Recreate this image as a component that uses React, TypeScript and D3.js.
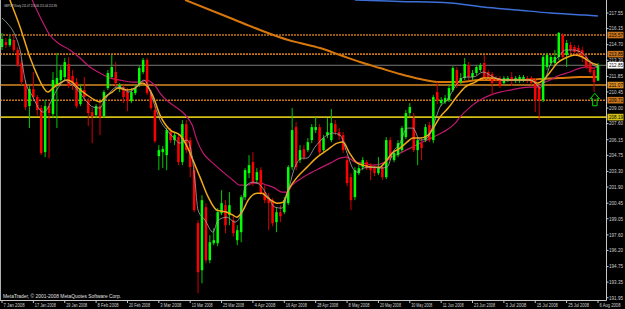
import React from "react";
import * as d3 from "d3";

const W = 625;
const H = 309;

// ---------- data ----------
const title = "GBPJPY,Daily 211.47 213.06 211.44 212.85";
const copyright = "MetaTrader, \u00A9 2001-2008 MetaQuotes Software Corp.";

const dateLabels = ["7 Jan 2008","17 Jan 2008","29 Jan 2008","8 Feb 2008","20 Feb 2008","3 Mar 2008","13 Mar 2008","25 Mar 2008","4 Apr 2008","16 Apr 2008","28 Apr 2008","8 May 2008","20 May 2008","30 May 2008","11 Jun 2008","23 Jun 2008","3 Jul 2008","15 Jul 2008","25 Jul 2008","6 Aug 2008"];
const dateBars = [0,8,16,24,32,40,48,56,64,72,80,88,96,104,112,120,128,136,144,152];

const priceTicks = [217.55,216.15,214.70,213.30,211.85,210.45,209.00,207.60,206.15,204.75,203.30,201.90,200.45,199.05,197.60,196.20,194.75,193.35,191.95];

const opens = [214.49,214.94,214.67,215.12,214.22,213.05,211.16,209.18,210.71,209.99,
209.00,205.04,209.18,208.46,211.16,211.52,211.79,212.96,211.88,211.34,
209.36,210.62,209.72,208.64,208.37,209.18,208.28,210.80,211.79,212.24,
210.71,210.89,210.44,209.63,210.35,211.07,212.24,213.32,210.35,208.82,
204.68,205.04,204.77,206.84,206.12,206.39,204.14,207.56,206.12,203.42,
198.65,194.42,200.09,195.32,196.85,196.85,199.55,200.27,199.37,198.92,
197.12,197.84,200.99,203.15,204.14,202.52,203.42,201.44,200.99,200.72,
198.74,199.64,199.64,200.45,203.69,207.29,204.32,205.31,205.22,206.12,
207.02,207.29,205.22,206.57,206.12,207.56,206.84,206.57,204.32,202.79,
200.99,203.15,203.69,204.14,203.87,203.69,203.15,203.69,202.79,206.12,
204.32,204.77,205.22,206.39,208.55,208.10,205.22,205.85,206.12,207.47,
206.12,210.44,209.45,209.54,209.72,210.62,212.42,211.34,211.70,212.87,
211.79,212.15,212.42,213.05,212.24,212.06,211.70,211.70,211.25,211.52,
211.79,211.43,211.43,211.52,211.70,211.70,211.52,210.89,209.72,212.69,
213.05,213.05,213.59,215.57,213.77,214.67,214.49,214.40,214.22,213.59,
213.05,212.42,211.47];

const highs = [215.75,215.30,215.48,215.57,214.49,213.32,211.52,210.98,212.24,210.17,
209.27,209.72,209.54,212.24,213.95,212.78,213.50,213.59,212.42,211.70,
211.16,211.79,209.90,209.00,209.36,209.54,210.62,212.42,213.77,213.14,
211.25,211.07,210.80,210.80,211.07,212.78,213.50,213.50,210.62,209.27,
205.67,205.58,207.20,207.20,206.84,206.75,207.92,207.92,206.39,203.87,
198.92,201.17,200.45,197.57,198.20,200.00,201.62,200.72,201.44,199.37,
198.47,201.17,203.60,204.77,205.04,203.60,203.69,202.07,201.35,200.90,
200.00,200.27,200.99,203.87,209.00,207.74,205.67,205.67,206.30,207.56,
208.19,207.56,206.57,208.10,208.91,207.92,207.20,206.84,204.77,203.15,
203.69,203.87,204.59,204.32,204.05,203.87,204.59,203.87,206.39,206.39,
205.22,206.12,207.38,208.82,209.45,208.55,206.39,206.30,207.56,207.74,
210.17,211.34,209.99,210.17,211.07,212.78,212.69,212.15,213.50,213.14,
212.42,212.87,213.05,213.77,212.42,212.24,211.88,211.88,211.88,211.88,
212.24,211.88,211.97,211.97,211.88,211.88,211.70,211.07,213.77,213.95,
213.77,214.22,215.84,215.75,215.12,214.94,214.67,214.67,214.49,213.77,
213.32,212.69,213.06];

const lows = [214.22,214.40,214.49,214.04,212.69,211.07,208.82,207.20,209.72,208.37,
204.77,204.59,204.50,208.10,207.20,211.25,211.52,210.80,210.62,209.00,
209.18,209.72,207.38,205.85,208.10,206.57,208.10,210.62,211.70,210.89,
210.44,209.45,208.73,209.45,210.17,210.89,212.06,210.17,208.82,205.85,
203.42,203.60,203.42,205.85,205.67,203.87,203.87,204.95,202.79,199.64,
192.35,193.25,195.05,195.05,196.67,196.58,199.37,197.75,198.47,197.48,
196.67,196.94,200.72,202.70,201.98,202.25,201.17,200.45,198.02,198.38,
197.84,198.74,199.46,200.27,203.42,203.42,204.05,204.32,205.04,205.85,
206.75,204.68,205.04,206.30,205.94,206.57,206.12,204.95,201.98,199.82,
200.72,202.97,203.42,203.42,202.52,202.88,202.97,202.52,202.61,204.32,
204.14,204.59,205.04,206.21,208.28,205.04,203.87,204.32,205.94,205.94,
205.85,209.36,209.18,209.36,209.54,210.44,210.80,211.16,211.52,211.52,
211.52,211.97,212.24,211.52,211.52,210.17,211.25,210.80,211.07,211.34,
210.98,211.25,211.25,211.34,211.25,211.07,208.64,207.92,209.54,212.42,
212.78,212.87,213.32,213.50,212.69,213.95,213.77,213.68,213.14,212.51,
212.06,210.44,211.44];

const closes = [215.21,214.67,215.21,214.22,212.87,211.34,209.09,210.71,209.99,208.82,
204.95,209.18,208.55,211.52,211.70,212.42,213.14,210.98,211.25,209.18,
210.80,209.99,208.55,208.28,209.18,208.19,210.44,212.15,212.69,211.25,
211.07,209.99,209.63,210.44,210.80,212.60,213.32,210.35,209.00,206.03,
205.22,205.31,207.02,206.12,206.57,204.14,207.56,205.22,203.69,199.82,
194.24,200.72,195.32,196.94,197.12,199.64,200.45,198.47,200.27,197.75,
198.02,200.99,203.42,203.87,202.25,203.24,201.35,200.72,200.45,198.65,
199.64,199.28,200.72,203.69,207.02,203.69,205.22,204.59,205.94,207.29,
207.29,205.04,206.30,206.84,207.65,206.84,206.48,205.22,202.25,200.72,
203.42,203.60,204.32,203.60,203.42,203.15,203.69,202.79,206.12,204.59,
204.95,205.85,207.20,208.55,209.09,205.22,206.12,205.40,207.29,206.12,
209.99,209.72,209.72,209.90,210.80,212.60,211.07,211.70,212.96,211.79,
212.15,212.69,212.87,211.70,211.70,211.25,211.52,210.98,211.70,211.70,
211.61,211.70,211.79,211.79,211.43,211.25,209.72,209.72,213.59,213.77,
213.59,213.59,215.75,213.59,214.85,214.22,214.04,214.04,213.59,212.69,
212.24,211.34,212.85];

// fast MA (gray)
const grayBars = [0,1.3,3.3,4.6,5.9,7.9,9.7,10.5,11.7,13.0,14.8,16.1,16.8,18.1,19.9,21.7,23.2,25.0,25.8,27.6,29.3,30.9,32.1,33.4,35.2,36.2,37.2,38.5,40.3,42.1,43.6,45.4,47.2,48.5,49.2,50.0,51.8,53.8,55.1,57.4,59.4,60.7,62.0,63.8,65.1,66.3,67.9,69.6,71.4,73.0,74.7,76.5,77.8,79.8,81.9,84.4,86.2,88.0,89.3,90.6,92.1,94.4,96.4,98.2,99.7,101.5,103.3,104.8,106.6,108.4,110.0,111.7,113.5,115.8,118.1,120.2,122.7,125.3,127.8,131.4,134.7,136.0,137.2,138.5,139.8,141.6,143.7,145.7,148.0,149.2,150.8,152.0];
const grayVals = [217.10,216.65,215.57,214.22,211.52,209.99,208.82,208.64,209.00,209.99,211.07,211.52,211.34,211.07,210.35,209.54,209.09,209.00,209.45,210.44,210.89,210.80,210.44,210.62,211.25,211.52,211.07,209.72,207.92,207.02,206.39,205.85,206.12,204.59,202.52,199.82,198.92,197.84,198.92,199.19,198.74,199.19,201.89,202.34,202.25,201.89,200.99,200.09,200.00,201.62,203.69,204.50,204.50,205.49,206.30,206.75,206.57,204.95,203.69,203.24,203.60,203.69,203.60,203.69,205.04,205.85,207.20,207.20,206.12,206.30,207.47,209.09,209.72,211.07,211.79,211.79,212.24,211.79,211.52,211.52,211.52,211.25,210.80,211.52,212.87,213.50,214.22,214.22,213.95,213.50,212.87,212.69];

// medium MA (gold)
const goldBars = [2.0,4.6,7.1,9.2,10.5,11.7,13.0,14.8,16.6,17.9,19.4,21.7,23.7,25.0,26.3,28.1,29.6,31.9,33.9,35.7,37.0,38.5,40.3,42.9,45.4,47.4,48.7,50.5,52.6,54.8,57.4,58.9,59.9,61.2,62.8,65.1,66.3,67.9,70.2,71.7,73.0,75.3,77.8,80.4,82.9,85.5,87.0,88.5,90.6,92.1,94.4,96.4,97.7,99.5,101.5,103.3,104.8,106.6,108.7,110.0,111.7,113.8,116.1,118.1,120.7,122.7,125.3,127.8,131.4,134.7,136.5,138.0,139.8,141.6,143.7,146.2,148.0,150.0,152.0];
const goldVals = [218.72,216.29,213.59,211.79,210.89,210.44,210.80,211.25,211.52,211.34,210.80,210.17,209.72,209.54,209.99,210.44,210.80,210.62,210.80,211.25,210.98,210.08,208.37,207.02,206.57,205.40,204.32,202.79,200.99,199.82,199.64,199.37,199.19,199.64,200.72,201.35,201.35,200.90,200.45,200.54,201.62,202.79,203.69,204.59,205.22,205.85,205.94,205.04,204.05,203.87,203.69,203.69,204.14,204.95,205.40,205.94,206.30,206.30,206.57,207.20,208.19,209.00,210.08,210.89,211.34,211.70,211.70,211.52,211.52,211.52,211.25,211.52,212.24,213.05,213.50,213.77,213.59,213.14,212.87];

// slow MA (crimson)
const crimsonBars = [7.7,10.5,12.2,14.3,17.3,19.9,22.4,25.0,27.6,30.1,33.2,35.2,37.0,38.3,39.5,40.3,42.9,45.4,47.2,48.5,49.7,51.3,53.8,56.4,58.9,60.7,62.5,64.0,65.8,67.6,69.6,71.4,72.7,74.0,76.0,78.6,81.1,83.7,86.2,88.0,90.1,92.1,94.6,97.2,99.0,101.5,104.1,106.6,110.0,112.5,115.6,116.8,119.4,121.9,124.5,127.0,129.6,132.1,134.7,136.5,138.0,139.8,142.3,144.9,147.4,149.2,150.8,152.0];
const crimsonVals = [218.72,216.65,215.57,214.85,214.22,213.50,212.69,212.15,211.70,211.52,211.34,211.34,211.52,211.25,210.80,210.35,209.45,208.82,208.19,207.47,206.12,204.95,204.05,203.24,202.52,202.07,202.07,202.25,202.25,202.07,201.80,201.44,201.44,202.07,202.61,203.15,203.60,204.05,204.50,204.59,204.14,204.05,203.87,204.05,204.50,204.95,205.40,205.85,206.39,206.84,207.65,208.19,209.09,209.72,210.17,210.44,210.62,210.80,210.89,210.89,211.25,211.52,211.97,212.24,212.60,212.69,212.60,212.69];

// long MA (dark orange)
const longBars = [46.7,58.2,65.8,73.0,76.0,81.1,86.2,91.3,96.4,101.5,106.6,111.7,116.8,121.9,127.0,132.1,137.2,142.3,147.4,152.0];
const longVals = [218.72,217.10,216.02,215.12,214.85,214.40,213.77,213.14,212.60,212.06,211.61,211.34,211.34,211.52,211.52,211.52,211.61,211.70,211.79,211.79];

// very long MA (blue)
const blueBars = [90.0,101.5,114.3,122.7,131.4,139.8,148.2,152.0];
const blueVals = [218.72,218.59,218.45,218.09,217.82,217.55,217.37,217.28];

// horizontal levels
const levelPrices = [215.57,213.85,211.07,209.71,208.19];
const levelLabels = ["215.57","213.85","211.07","209.71","208.19"];
const levelColors = ["#c8741c","#c8741c","#d88a22","#c8741c","#d2c014"];
const levelDashed = [true,true,false,true,false];
const bidPrice = 212.85;
const bidLabel = "212.85";

const arrowBar = 151.2;
const arrowPrice = 209.75;

export default function App() {
  const x = d3.scaleLinear().domain([0, 152]).range([2, 598]);
  const y = d3.scaleLinear().domain([191.95, 217.55]).range([297.7, 13]);

  const mk = (bars: number[], vals: number[]) =>
    d3
      .line<number>()
      .x((_, i) => x(bars[i]))
      .y((v) => y(v))
      .curve(d3.curveMonotoneX)(vals) || "";

  const font = "Liberation Sans, Arial, sans-serif";
  const plotR = 606;
  const plotB = 300;

  const candles = opens.map((o, i) => {
    const c = closes[i];
    const up = c >= o;
    const cx = x(i);
    const top = y(Math.max(o, c));
    const bot = y(Math.min(o, c));
    const col = up ? "#00ff00" : "#ff0000";
    const wcol = up ? "#00c800" : "#d00000";
    return (
      <g key={i}>
        <line x1={cx} x2={cx} y1={y(highs[i])} y2={y(lows[i])} stroke={wcol} strokeWidth={1} />
        <rect x={cx - 1.25} y={top} width={2.5} height={Math.max(0.8, bot - top)} fill={col} />
      </g>
    );
  });

  const ax = x(arrowBar);
  const ay = y(arrowPrice);
  const arrowPath = `M${ax},${ay - 6.5} L${ax + 4.5},${ay - 1} L${ax + 2.2},${ay - 1} L${ax + 2.2},${ay + 6} L${ax - 2.2},${ay + 6} L${ax - 2.2},${ay - 1} L${ax - 4.5},${ay - 1} Z`;

  return (
    <div style={{ position: "fixed", left: 0, top: 0, width: W, height: H, background: "#000" }}>
      <svg width={W} height={H} style={{ display: "block" }}>
        <defs>
          <clipPath id="plot">
            <rect x={0} y={0} width={plotR} height={plotB} />
          </clipPath>
        </defs>
        <rect x={0} y={0} width={W} height={H} fill="#000" />

        <g clipPath="url(#plot)">
          {/* horizontal levels */}
          {levelPrices.map((p, i) => (
            <line
              key={"lv" + i}
              x1={0}
              x2={plotR}
              y1={y(p)}
              y2={y(p)}
              stroke={levelColors[i]}
              strokeWidth={1.6}
              strokeDasharray={levelDashed[i] ? "2,1" : undefined}
            />
          ))}
          <line x1={0} x2={plotR} y1={y(bidPrice)} y2={y(bidPrice)} stroke="#7a7a7a" strokeWidth={1} />

          {/* moving averages */}
          <path d={mk(blueBars, blueVals)} fill="none" stroke="#3c6fd8" strokeWidth={1.5} />
          <path d={mk(longBars, longVals)} fill="none" stroke="#d8780c" strokeWidth={2} />
          <path d={mk(crimsonBars, crimsonVals)} fill="none" stroke="#c01870" strokeWidth={1.2} />

          {candles}

          <path d={mk(goldBars, goldVals)} fill="none" stroke="#f0a818" strokeWidth={1.5} />
          <path d={mk(grayBars, grayVals)} fill="none" stroke="#a8a8a8" strokeWidth={0.8} />

          <path d={arrowPath} fill="none" stroke="#00e000" strokeWidth={1} />
        </g>

        {/* frame */}
        <line x1={0.5} x2={0.5} y1={0} y2={plotB} stroke="#b0b0b0" strokeWidth={1} />
        <line x1={plotR + 0.5} x2={plotR + 0.5} y1={0} y2={plotB + 0.5} stroke="#c8c8c8" strokeWidth={1} />
        <line x1={0} x2={plotR + 0.5} y1={plotB + 0.5} y2={plotB + 0.5} stroke="#c8c8c8" strokeWidth={1} />

        {/* price axis */}
        {priceTicks.map((p, i) => (
          <g key={"pt" + i}>
            <line x1={plotR} x2={plotR + 2.5} y1={y(p)} y2={y(p)} stroke="#c8c8c8" strokeWidth={1} />
            <text x={609} y={y(p) + 1.8} fontSize={5.2} fill="#d0d0d0" fontFamily={font} textLength={14} lengthAdjust="spacingAndGlyphs">
              {p.toFixed(2)}
            </text>
          </g>
        ))}
        {levelPrices.map((p, i) => (
          <g key={"lb" + i}>
            <rect x={607.5} y={y(p) - 3.3} width={16} height={6.6} fill={levelColors[i]} />
            <text x={609} y={y(p) + 1.8} fontSize={5.2} fill="#000" fontFamily={font} textLength={14} lengthAdjust="spacingAndGlyphs">
              {levelLabels[i]}
            </text>
          </g>
        ))}
        <rect x={607.5} y={y(bidPrice) - 3.3} width={16} height={6.6} fill="#ffffff" />
        <text x={609} y={y(bidPrice) + 1.8} fontSize={5.2} fill="#000" fontFamily={font} textLength={14} lengthAdjust="spacingAndGlyphs">
          {bidLabel}
        </text>

        {/* time axis */}
        {dateBars.map((b, i) => (
          <g key={"dt" + i}>
            <line x1={x(b)} x2={x(b)} y1={plotB} y2={plotB + 3} stroke="#c8c8c8" strokeWidth={1} />
            <text x={x(b) + 1.5} y={306.5} fontSize={5.2} fill="#d0d0d0" fontFamily={font} textLength={21} lengthAdjust="spacingAndGlyphs">
              {dateLabels[i]}
            </text>
          </g>
        ))}

        {/* texts */}
        <text x={4} y={7} fontSize={4.2} fill="#d0d0d0" fontFamily={font} textLength={53} lengthAdjust="spacingAndGlyphs">
          {title}
        </text>
        <text x={3} y={298.2} fontSize={4.8} fill="#e0e0e0" fontFamily={font} textLength={118} lengthAdjust="spacingAndGlyphs">
          {copyright}
        </text>
      </svg>
    </div>
  );
}
